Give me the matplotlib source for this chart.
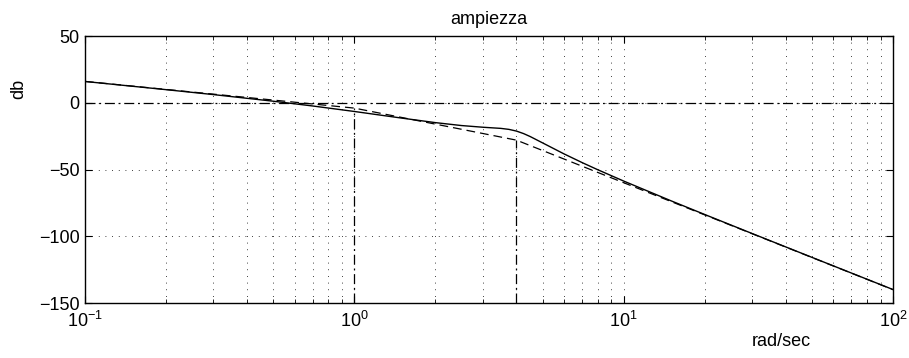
import matplotlib
matplotlib.use('Agg')
import matplotlib.pyplot as plt
from matplotlib.ticker import LogLocator, NullFormatter, FixedLocator

plt.rcParams['font.family'] = ['Liberation Sans', 'DejaVu Sans']
plt.rcParams['mathtext.fontset'] = 'custom'
plt.rcParams['mathtext.rm'] = 'Liberation Sans'
plt.rcParams['mathtext.it'] = 'Liberation Sans'

# modulo reale
w = [0.1, 0.2, 0.3, 0.5, 0.7, 1, 1.5, 2, 2.5, 3, 3.5, 3.75, 4, 4.25, 4.5, 5,
     6, 7, 8, 10, 15, 20, 30, 50, 70, 100]
mag = [15.95, 9.82, 6.12, 1.16, -2.40, -6.52, -11.49, -14.88, -17.07, -18.33,
       -19.19, -19.94, -21.22, -23.09, -25.33, -30.06, -38.26, -44.75, -50.10,
       -58.64, -73.46, -83.70, -97.96, -115.80, -127.51, -139.91]

# diagramma asintotico
w_as = [0.1, 1, 4, 100]
mag_as = [16, -4, -28, -140]

# pulsazioni di rottura
w_break = [1, 4]
mag_break = [-4, -28]

fig = plt.figure(figsize=(9.09, 3.58), dpi=100)
ax = fig.add_axes([0.0935, 0.1536, 0.8889, 0.7458])

ax.semilogx(w, mag, color='black', lw=1.0)
ax.semilogx(w_as, mag_as, color='black', lw=0.9, linestyle=(0, (7, 4)))
ax.axhline(0, color='black', lw=0.9, linestyle=(0, (8, 3, 1.5, 3)))
for wb, mb in zip(w_break, mag_break):
    ax.plot([wb, wb], [-150, mb], color='black', lw=0.9, linestyle=(0, (8, 3, 1.5, 3)))

ax.set_xlim(0.1, 100)
ax.set_ylim(-150, 50)
ax.yaxis.set_major_locator(FixedLocator([-150, -100, -50, 0, 50]))
ax.xaxis.set_major_locator(LogLocator(base=10))
ax.xaxis.set_minor_locator(LogLocator(base=10, subs=range(2, 10)))
ax.xaxis.set_minor_formatter(NullFormatter())

ax.grid(True, which='major', color='black', linestyle=(0, (1, 7)), lw=0.6)
ax.grid(True, which='minor', axis='x', color='black', linestyle=(0, (1, 7)), lw=0.6)

ax.tick_params(which='both', direction='in', top=True, right=True, labelsize=13)
ax.tick_params(which='major', length=5)
ax.tick_params(which='minor', length=3)
ax.tick_params(axis='x', pad=6)
ax.tick_params(axis='y', pad=4)
for s in ax.spines.values():
    s.set_linewidth(1.0)

ax.set_title('ampiezza', fontsize=13, pad=9)
ax.set_xlabel('rad/sec', fontsize=13)
ax.xaxis.set_label_coords(0.862, -0.112)
ax.set_ylabel('db', fontsize=13)
ax.yaxis.set_label_coords(-0.072, 0.80)

fig.savefig('out.png', dpi=100)
